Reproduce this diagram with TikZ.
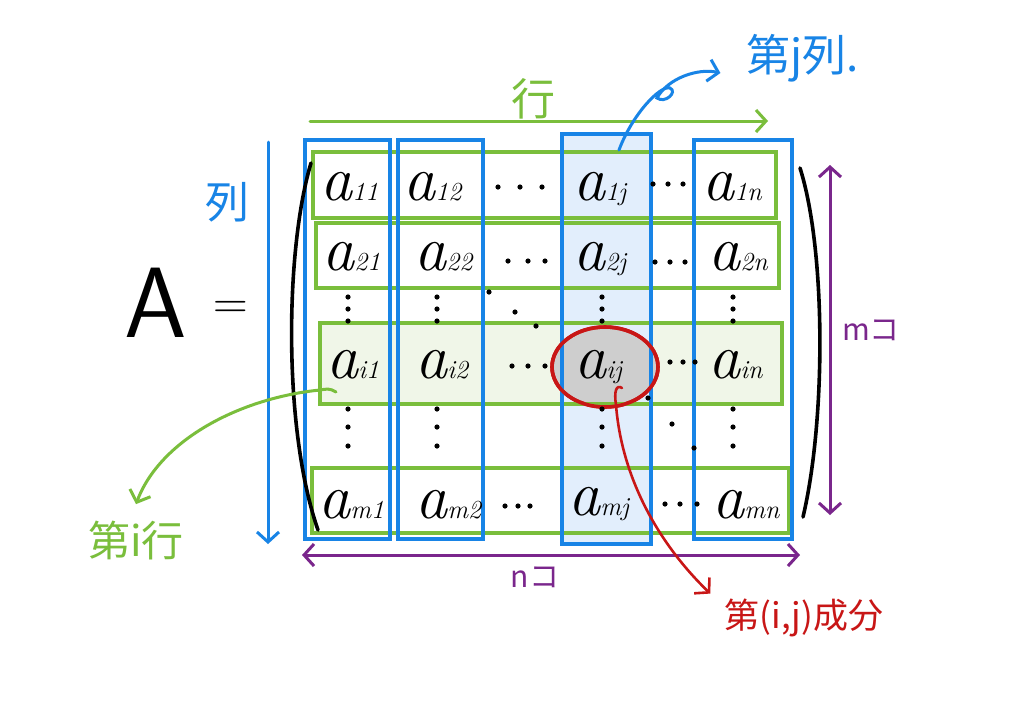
\documentclass[tikz,border=0pt]{standalone}
\usepackage{fontspec}
\usetikzlibrary{arrows.meta,shapes.geometric}
\newfontfamily\cjk{Noto Sans CJK JP}
\definecolor{mblue}{RGB}{24,132,230}
\definecolor{mgreen}{RGB}{122,190,60}
\definecolor{mpurple}{RGB}{122,38,140}
\definecolor{mred}{RGB}{200,22,22}
\definecolor{lblue}{RGB}{226,238,252}
\definecolor{lgreen}{RGB}{240,246,232}
\definecolor{lgray}{RGB}{206,206,206}
\newcommand\sub[1]{{\fontsize{13}{14}\selectfont #1}}
\tikzset{
  colbox/.style={draw=mblue, line width=1.7pt, inner sep=0pt, minimum height=199.5pt},
  rowbox/.style={draw=mgreen, line width=1.7pt, inner sep=0pt},
  ent/.style={anchor=base west, inner sep=0pt, font=\fontsize{32}{34}\selectfont\itshape},
  bdot/.style={fill=black},
  arr/.style={line width=1.5pt, line cap=round, -{Straight Barb[length=5pt,width=11pt]}},
  darr/.style={line width=1.5pt, line cap=round, {Straight Barb[length=5pt,width=11pt]}-{Straight Barb[length=5pt,width=11pt]}},
  lab/.style={inner sep=0pt, font=\cjk},
}
\begin{document}
\begin{tikzpicture}[x=0.5pt,y=-0.5pt]
\useasboundingbox[fill=white] (0,0) rectangle (1024,724);
% fills
\node[rowbox, fill=lgreen, minimum width=231pt, minimum height=40.5pt] (ri) at (551,363.5) {};
\node[colbox, draw=none, fill=lblue, minimum width=44.5pt, minimum height=205pt] (cjf) at (606.5,339) {};
\node[ellipse, fill=lgray, draw=mred, line width=1.8pt, minimum width=53pt, minimum height=40pt, inner sep=0pt] (ell) at (605,367) {};
% row boxes
\node[rowbox, minimum width=231.5pt, minimum height=33pt] (r1) at (544.5,185) {};
\node[rowbox, minimum width=231.5pt, minimum height=32.5pt] (r2) at (547.5,255.5) {};
\node[rowbox, minimum width=231pt, minimum height=40.5pt] (ri2) at (551,363.5) {};
\node[rowbox, minimum width=238.5pt, minimum height=32.5pt] (rm) at (550.5,500.5) {};
% column boxes
\node[colbox, minimum width=42.5pt] (c1) at (347.5,339.5) {};
\node[colbox, minimum width=42.5pt] (c2) at (440.5,339.5) {};
\node[colbox, minimum width=44.5pt, minimum height=205pt] (cj) at (606.5,339) {};
\node[colbox, minimum width=49pt] (cn) at (743,339.5) {};
\node[ellipse, draw=mred, line width=1.8pt, minimum width=53pt, minimum height=40pt, inner sep=0pt] (ell2) at (605,367) {};
% entries
\node[ent] (a11) at (320,200) {a\sub{11}};
\node[ent] (a12) at (403,200) {a\sub{12}};
\node[ent] (a1j) at (573,200) {a\sub{1j}};
\node[ent] (a1n) at (702,200) {a\sub{1n}};
\node[ent] (a21) at (322,270) {a\sub{21}};
\node[ent] (a22) at (414,270) {a\sub{22}};
\node[ent] (a2j) at (573,270) {a\sub{2j}};
\node[ent] (a2n) at (708,270) {a\sub{2n}};
\node[ent] (ai1) at (326,378) {a\sub{i1}};
\node[ent] (ai2) at (415,378) {a\sub{i2}};
\node[ent] (aij) at (574,378) {a\sub{ij}};
\node[ent] (ain) at (708,378) {a\sub{in}};
\node[ent] (am1) at (318,518) {a\sub{m1}};
\node[ent] (am2) at (415,518) {a\sub{m2}};
\node[ent] (amj) at (568,515) {a\sub{mj}};
\node[ent] (amn) at (712,518) {a\sub{mn}};
% dots
\foreach \p in {(498,187),(520,187),(542,187),(653,184),(668,184),(683,184),
  (508,261),(528,261),(545,261),(655,262),(670,262),(685,262),
  (512,366),(528,366),(545,366),(670,362),(683,362),(695,362),
  (505,506),(518,506),(530,506),(665,504),(680,504),(697,504),
  (489,292),(515,312),(536,326),(648,398),(672,424),(694,448)}
  \fill[bdot] \p circle[radius=2.6];
\foreach \x in {348,437,602,733}{
  \foreach \y in {297,309,321,409,427,446}
    \fill[bdot] (\x,\y) circle[radius=2.6];
}
% brackets
\draw[line width=1.8pt, line cap=round] (311,163) .. controls (285,250) and (283,430) .. (318,530);
\draw[line width=1.8pt, line cap=round] (800,168) .. controls (826,250) and (826,420) .. (803,517);
% A =
\node[inner sep=0pt, font=\fontsize{50}{50}\selectfont\sffamily] (A) at (156,303) {A};
\node[inner sep=0pt, font=\fontsize{24}{24}\selectfont] (eq) at (231,310) {=};
% axis arrows
\coordinate (gs) at (310,121); \coordinate (ge) at (768,121);
\draw[arr, mgreen] (gs) -- (ge);
\node[lab, text=mgreen, font=\cjk\fontsize{22}{22}\selectfont] (lrow) at (533,99) {行};
\coordinate (bs) at (268,142); \coordinate (be) at (268,544);
\draw[arr, mblue] (bs) -- (be);
\node[lab, text=mblue, font=\cjk\fontsize{22}{22}\selectfont] (lcol) at (227,202) {列};
\coordinate (ms) at (830,165); \coordinate (me) at (830,515);
\draw[darr, mpurple] (ms) -- (me);
\node[lab, text=mpurple, font=\cjk\fontsize{15}{15}\selectfont] (lm) at (871,330) {mコ};
\coordinate (ns) at (302,555); \coordinate (ne) at (800,555);
\draw[darr, mpurple] (ns) -- (ne);
\node[lab, text=mpurple, font=\cjk\fontsize{15}{15}\selectfont] (ln) at (535,577) {nコ};
% callouts
\node[lab, text=mblue, font=\cjk\fontsize{22}{22}\selectfont] (lbj) at (803,58) {第j列.};
\coordinate (bjs) at (619,150);
\draw[arr, mblue] (bjs) .. controls (632,115) and (660,85) .. (670,88)
  .. controls (678,92) and (665,104) .. (657,98)
  .. controls (668,78) and (698,68) .. ([xshift=-13pt,yshift=-7.5pt]lbj.west);
\node[lab, text=mgreen, font=\cjk\fontsize{21}{21}\selectfont] (lbi) at (136,540) {第i行};
\coordinate (gis) at (336,392);
\draw[arr, mgreen] (gis) .. controls (330,388) and (326,389) .. (320,390)
  .. controls (240,398) and (160,440) .. ([yshift=8pt]lbi.north);
\node[lab, text=mred, font=\cjk\fontsize{17.5}{18}\selectfont] (lbr) at (804,618) {第(i,j)成分};
\coordinate (rs) at (622,388);
\draw[arr, mred, line width=1.3pt] (rs) .. controls (616,384) and (614,392) .. (616,405)
  .. controls (622,480) and (660,545) .. ([xshift=-7pt,yshift=2.5pt]lbr.north west);
\end{tikzpicture}
\end{document}
